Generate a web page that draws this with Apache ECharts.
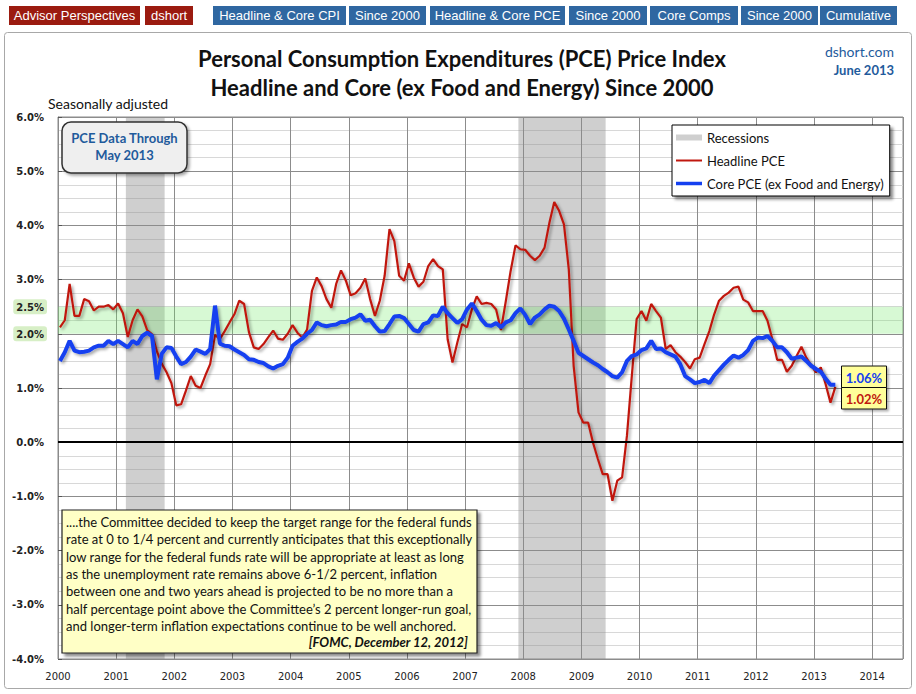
<!DOCTYPE html>
<html><head><meta charset="utf-8">
<script src="https://cdn.jsdelivr.net/npm/echarts@6/dist/echarts.min.js"></script>
<style>html,body{margin:0;padding:0;background:#fff;}#c{width:916px;height:694px;}</style>
</head><body><div id="c"></div>
<script>
// ---------------- DATA ----------------
const startYear = 2000;           // first observation: January 2000, monthly
const headline = [
  2.12, 2.25, 2.92, 2.33, 2.33, 2.64, 2.60, 2.43, 2.50, 2.50, 2.53, 2.45,
  2.56, 2.38, 1.94, 2.25, 2.45, 2.32, 2.07, 1.99, 1.68, 1.45, 1.29, 1.09,
  0.68, 0.70, 0.95, 1.22, 1.04, 1.00, 1.23, 1.44, 1.98, 1.90, 2.05, 2.21,
  2.36, 2.61, 2.55, 2.03, 1.75, 1.72, 1.81, 1.94, 2.06, 1.91, 1.89, 2.00,
  2.16, 2.02, 1.93, 2.08, 2.79, 3.04, 2.88, 2.64, 2.48, 2.92, 3.17, 2.98,
  2.71, 2.75, 2.85, 3.02, 2.64, 2.33, 2.61, 3.07, 3.93, 3.71, 3.07, 2.98,
  3.30, 3.04, 2.87, 2.96, 3.25, 3.38, 3.25, 3.19, 1.90, 1.47, 1.84, 2.18,
  2.12, 2.45, 2.69, 2.55, 2.57, 2.55, 2.45, 2.07, 2.60, 3.16, 3.63, 3.56,
  3.55, 3.44, 3.36, 3.44, 3.59, 4.05, 4.43, 4.27, 4.02, 3.19, 1.41, 0.55,
  0.36, 0.36, -0.01, -0.31, -0.59, -0.59, -1.08, -0.71, -0.65, 0.12, 1.22, 2.27,
  2.42, 2.24, 2.55, 2.42, 2.30, 1.72, 1.79, 1.66, 1.58, 1.48, 1.36, 1.53,
  1.56, 1.81, 2.05, 2.36, 2.61, 2.70, 2.76, 2.85, 2.87, 2.63, 2.58, 2.42,
  2.42, 2.42, 2.24, 1.90, 1.52, 1.52, 1.30, 1.41, 1.59, 1.76, 1.56, 1.42,
  1.29, 1.38, 1.07, 0.73, 1.02
];
const core = [
  1.50, 1.66, 1.87, 1.69, 1.66, 1.67, 1.69, 1.75, 1.78, 1.78, 1.87, 1.81,
  1.87, 1.81, 1.75, 1.87, 1.81, 1.96, 2.02, 1.96, 1.16, 1.63, 1.75, 1.74,
  1.58, 1.44, 1.48, 1.58, 1.71, 1.67, 1.63, 1.72, 2.52, 1.82, 1.78, 1.77,
  1.71, 1.66, 1.61, 1.53, 1.52, 1.48, 1.46, 1.40, 1.36, 1.41, 1.44, 1.56,
  1.78, 1.85, 1.91, 2.00, 2.07, 2.21, 2.16, 2.14, 2.16, 2.17, 2.22, 2.22,
  2.27, 2.30, 2.36, 2.24, 2.26, 2.14, 2.04, 2.05, 2.18, 2.32, 2.33, 2.29,
  2.18, 2.07, 2.04, 2.18, 2.21, 2.34, 2.33, 2.50, 2.38, 2.29, 2.20, 2.27,
  2.45, 2.56, 2.42, 2.26, 2.16, 2.15, 2.20, 2.12, 2.21, 2.25, 2.38, 2.47,
  2.35, 2.18, 2.30, 2.36, 2.45, 2.52, 2.50, 2.42, 2.28, 2.08, 1.87, 1.65,
  1.59, 1.53, 1.47, 1.42, 1.35, 1.29, 1.22, 1.19, 1.29, 1.50, 1.59, 1.62,
  1.70, 1.73, 1.87, 1.72, 1.73, 1.66, 1.62, 1.58, 1.44, 1.22, 1.16, 1.09,
  1.11, 1.15, 1.09, 1.23, 1.33, 1.43, 1.52, 1.60, 1.56, 1.61, 1.70, 1.87,
  1.93, 1.92, 1.96, 1.87, 1.75, 1.75, 1.66, 1.54, 1.56, 1.58, 1.50, 1.41,
  1.35, 1.30, 1.17, 1.06, 1.06
];
const yearLabels = [2000,2001,2002,2003,2004,2005,2006,2007,2008,2009,2010,2011,2012,2013,2014];
const recessionStarts = ['2001-03', '2007-12'];
const recessionEnds   = ['2001-11', '2009-06'];
const targetBand = [2.0, 2.5];
const highlightTicks = [2.0, 2.5];
const seriesNames = ['Recessions', 'Headline PCE', 'Core PCE (ex Food and Energy)'];
const titleLines = ['Personal Consumption Expenditures (PCE) Price Index',
                    'Headline and Core (ex Food and Energy) Since 2000'];
const siteLines = ['dshort.com', 'June 2013'];
const subTitle = 'Seasonally adjusted';
const dataNote = ['PCE Data Through', 'May 2013'];
const navRed = ['Advisor Perspectives', 'dshort'];
const navBlue = ['Headline & Core CPI', 'Since 2000', 'Headline & Core PCE', 'Since 2000', 'Core Comps', 'Since 2000', 'Cumulative'];
const quoteLines = [
  '....the Committee decided to keep the target range for the federal funds',
  'rate at 0 to 1/4 percent and currently anticipates that this exceptionally',
  'low range for the federal funds rate will be appropriate at least as long',
  'as the unemployment rate remains above 6-1/2 percent, inflation',
  'between one and two years ahead is projected to be no more than a',
  'half percentage point above the Committee\u2019s 2 percent longer-run goal,',
  'and longer-term inflation expectations continue to be well anchored.'
];
const quoteSource = '[FOMC, December 12, 2012]';

// ---------------- HELPERS ----------------
const toYear = s => { const [y, m] = s.split('-').map(Number); return y + (m - 1) / 12; };
const monthPos = i => startYear + (i + 0.4) / 12;
const headData = headline.map((v, i) => [monthPos(i), v]);
const coreData = core.map((v, i) => [monthPos(i), v]);
const fmtPct = v => v.toFixed(2) + '%';

// layout (styles / positions only)
const RED = '#c0180f', BLUE = '#1440f0';
const navRedBoxes = [[9, 131], [145, 48]];
const navBlueBoxes = [[213, 133], [349, 77], [430, 135], [569, 78], [650, 88], [741, 77], [820, 77]];
const TXT = 'Lato, "Open Sans", sans-serif';
const NARROW = '"Liberation Sans Narrow", "Arial Narrow", "Liberation Sans", sans-serif';

const graphics = [];
// outer frame
graphics.push({ type: 'rect', z: -10, shape: { x: 4.5, y: 32.5, width: 907, height: 656, r: 3 },
  style: { fill: '#fff', stroke: '#a8a8a8', lineWidth: 1 } });
// nav buttons
navRed.forEach((t, i) => {
  const [x, w] = navRedBoxes[i];
  graphics.push({ type: 'rect', shape: { x, y: 6, width: w, height: 19 }, style: { fill: '#9b1b10' } });
  graphics.push({ type: 'text', x: x + w / 2, y: 15.5, style: { text: t, fill: '#fff', font: '13px ' + NARROW, textAlign: 'center', textVerticalAlign: 'middle' } });
});
navBlue.forEach((t, i) => {
  const [x, w] = navBlueBoxes[i];
  graphics.push({ type: 'rect', shape: { x, y: 6, width: w, height: 19 }, style: { fill: '#2f67a1' } });
  graphics.push({ type: 'text', x: x + w / 2, y: 15.5, style: { text: t, fill: '#fff', font: '13px ' + NARROW, textAlign: 'center', textVerticalAlign: 'middle' } });
});
// titles
titleLines.forEach((t, i) => graphics.push({ type: 'text', x: 462, y: 58 + i * 29,
  style: { text: t, fill: '#111', font: 'bold 22px ' + TXT, textAlign: 'center', textVerticalAlign: 'middle' } }));
siteLines.forEach((t, i) => graphics.push({ type: 'text', x: 894, y: 51 + i * 19,
  style: { text: t, fill: '#1f5b9c', font: (i ? 'bold 13px ' : '14px ') + TXT, textAlign: 'right', textVerticalAlign: 'middle' } }));
graphics.push({ type: 'text', x: 48, y: 103, style: { text: subTitle, fill: '#111', font: '14px ' + TXT, textAlign: 'left', textVerticalAlign: 'middle' } });
// data-through box
graphics.push({ type: 'rect', z: 100, shape: { x: 62, y: 122, width: 125, height: 51, r: 9 },
  style: { fill: '#efefef', stroke: '#333', lineWidth: 1.5, shadowColor: 'rgba(0,0,0,0.35)', shadowBlur: 3, shadowOffsetX: 2, shadowOffsetY: 2 } });
dataNote.forEach((t, i) => graphics.push({ type: 'text', z: 101, x: 124.5, y: 138 + i * 17,
  style: { text: t, fill: '#1f5b9c', font: 'bold 13px ' + TXT, textAlign: 'center', textVerticalAlign: 'middle' } }));
// quote box
graphics.push({ type: 'rect', z: 100, shape: { x: 62, y: 510, width: 415, height: 143 },
  style: { fill: '#ffffc6', stroke: '#222', lineWidth: 1.2, shadowColor: 'rgba(0,0,0,0.45)', shadowBlur: 3, shadowOffsetX: 3, shadowOffsetY: 3 } });
quoteLines.forEach((t, i) => graphics.push({ type: 'text', z: 101, x: 66, y: 522 + i * 17.3,
  style: { text: t, fill: '#111', font: '13px ' + TXT, textAlign: 'left', textVerticalAlign: 'middle' } }));
graphics.push({ type: 'text', z: 101, x: 468, y: 642, style: { text: quoteSource, fill: '#111', font: 'italic bold 13px ' + TXT, textAlign: 'right', textVerticalAlign: 'middle' } });
// last-value boxes
[[fmtPct(core[core.length - 1]), BLUE], [fmtPct(headline[headline.length - 1]), RED]].forEach(([t, c], i) => {
  graphics.push({ type: 'rect', z: 100, shape: { x: 841.5, y: 366 + i * 21.5, width: 45, height: 21.5 },
    style: { fill: '#ffff99', stroke: '#111', lineWidth: 1, shadowColor: 'rgba(0,0,0,0.3)', shadowBlur: 2, shadowOffsetX: 2, shadowOffsetY: 2 } });
  graphics.push({ type: 'text', z: 101, x: 864, y: 377.5 + i * 21.5, style: { text: t, fill: c, font: 'bold 13px ' + TXT, textAlign: 'center', textVerticalAlign: 'middle' } });
});

const option = {
  animation: false,
  backgroundColor: 'transparent',
  grid: { left: 58, right: 13, top: 117, bottom: 35, show: true, borderColor: '#8a8a8a', borderWidth: 1, backgroundColor: 'transparent' },
  xAxis: {
    type: 'value', min: yearLabels[0], max: 2014.53, interval: 1,
    axisLine: { show: false }, axisTick: { show: false },
    axisLabel: { formatter: v => (yearLabels.includes(v) ? String(v) : ''), color: '#222', fontFamily: 'DejaVu Sans', fontSize: 10, margin: 12 },
    splitLine: { show: true, lineStyle: { color: '#8c8c8c', width: 1 } }
  },
  yAxis: [{
    type: 'value', min: -4, max: 6, interval: 1,
    axisLine: { show: true, lineStyle: { color: '#8a8a8a' } },
    axisTick: { show: true, inside: true, length: 4, lineStyle: { color: '#555' } },
    axisLabel: { formatter: v => (highlightTicks.includes(v) ? '' : v.toFixed(1) + '%'), color: '#222', fontFamily: 'DejaVu Sans', fontWeight: 'bold', fontSize: 10, margin: 14 },
    splitLine: { show: true, lineStyle: { color: '#8c8c8c' } },
    minorTick: { show: false, splitNumber: 4 },
    minorSplitLine: { show: true, lineStyle: { color: '#d8d8d8' } }
  }, {
    type: 'value', min: -4, max: 6, interval: 0.5, position: 'left',
    axisLine: { show: false }, axisTick: { show: false }, splitLine: { show: false },
    axisLabel: {
      formatter: v => (highlightTicks.includes(v) ? '{g|' + v.toFixed(1) + '%}' : ''), margin: 11,
      rich: { g: { backgroundColor: '#d7efc6', padding: [3, 3, 2, 3], borderRadius: 3, color: '#222', fontFamily: 'DejaVu Sans', fontWeight: 'bold', fontSize: 10 } }
    }
  }],
  legend: {
    left: 672, top: 125, orient: 'vertical', selectedMode: false,
    itemWidth: 26, itemHeight: 14, itemGap: 10, padding: [6, 6, 6, 4],
    backgroundColor: '#fff', borderColor: '#000', borderWidth: 1,
    shadowColor: 'rgba(0,0,0,0.45)', shadowBlur: 3, shadowOffsetX: 3, shadowOffsetY: 3,
    textStyle: { fontFamily: TXT, fontSize: 13, color: '#111', padding: [0, 0, 0, 0] },
    data: [
      { name: seriesNames[0], icon: 'path://M0,0H26V6H0Z' },
      { name: seriesNames[1], icon: 'path://M0,0H26V2H0Z' },
      { name: seriesNames[2], icon: 'path://M0,0H26V3.5H0Z' }
    ]
  },
  graphic: graphics,
  series: [
    {
      name: seriesNames[0], type: 'line', data: [], z: 1, color: '#cfcfcf', itemStyle: { color: '#cfcfcf' },
      markArea: { silent: true, itemStyle: { color: 'rgba(140,140,140,0.42)' },
        data: recessionStarts.map((s, i) => [{ xAxis: toYear(s) }, { xAxis: toYear(recessionEnds[i]) }]) },
      markLine: { silent: true, symbol: 'none', label: { show: false }, lineStyle: { color: '#000', width: 2, type: 'solid' },
        data: [{ yAxis: 0 }] }
    },
    {
      name: seriesNames[1], type: 'line', data: headData, z: 3, showSymbol: false, color: RED, itemStyle: { color: RED },
      lineStyle: { color: RED, width: 2.2, shadowColor: 'rgba(0,0,0,0.35)', shadowBlur: 3, shadowOffsetX: 2, shadowOffsetY: 2 }
    },
    {
      name: seriesNames[2], type: 'line', data: coreData, z: 4, showSymbol: false, color: BLUE, itemStyle: { color: BLUE },
      lineStyle: { color: BLUE, width: 4, shadowColor: 'rgba(0,0,0,0.35)', shadowBlur: 3, shadowOffsetX: 2, shadowOffsetY: 2 }
    },
    {
      name: 'band', type: 'line', data: [], z: 10,
      markArea: { silent: true, itemStyle: { color: 'rgba(110,232,100,0.28)' },
        data: [[{ yAxis: targetBand[0] }, { yAxis: targetBand[1] }]] }
    }
  ]
};
const chart = echarts.init(document.getElementById('c'), null, { renderer: 'svg' });
chart.setOption(option);
</script>
</body></html>
